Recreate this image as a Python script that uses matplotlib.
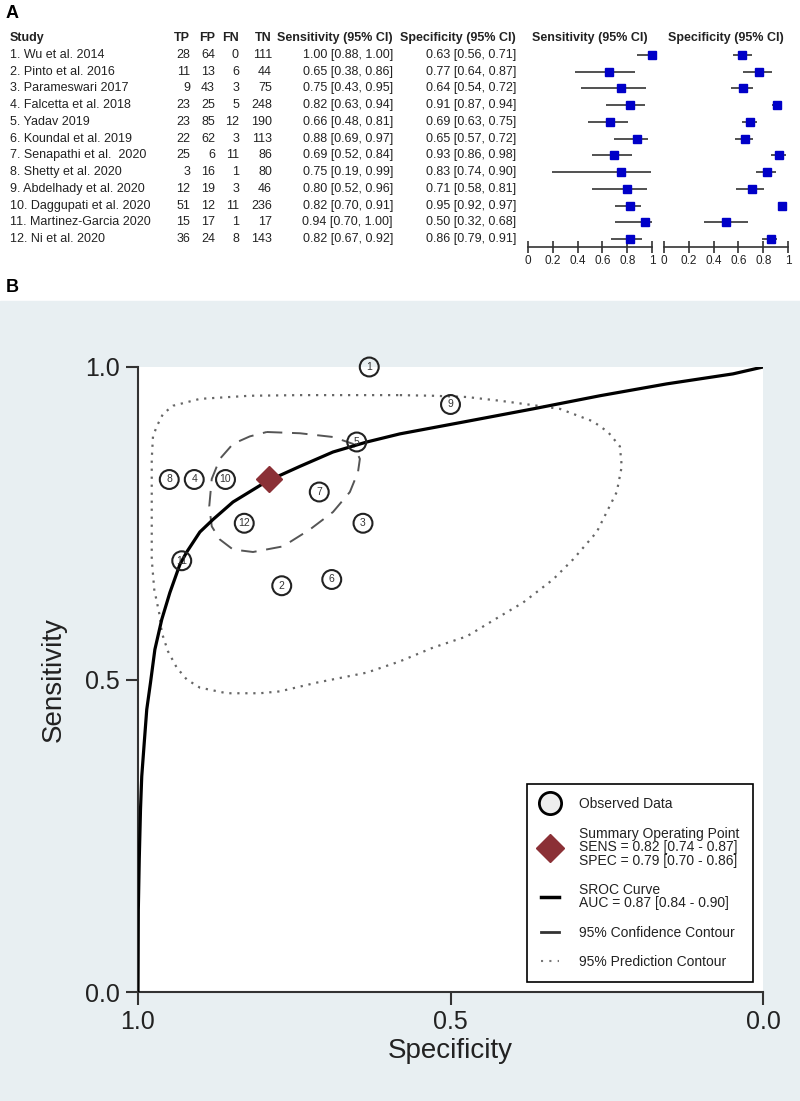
import numpy as np
import matplotlib
matplotlib.use("Agg")
import matplotlib.pyplot as plt
from matplotlib.lines import Line2D
from matplotlib.patches import Rectangle

plt.rcParams["font.family"] = ["Liberation Sans", "DejaVu Sans"]

# ---- panel A: study table ----
STUDIES = ["1. Wu et al. 2014", "2. Pinto et al. 2016", "3. Parameswari 2017",
           "4. Falcetta et al. 2018", "5. Yadav 2019", "6. Koundal et al. 2019",
           "7. Senapathi et al.  2020", "8. Shetty et al. 2020",
           "9. Abdelhady et al. 2020", "10. Daggupati et al. 2020",
           "11. Martinez-Garcia 2020", "12. Ni et al. 2020"]
TP = [28, 11, 9, 23, 23, 22, 25, 3, 12, 51, 15, 36]
FP = [64, 13, 43, 25, 85, 62, 6, 16, 19, 12, 17, 24]
FN = [0, 6, 3, 5, 12, 3, 11, 1, 3, 11, 1, 8]
TN = [111, 44, 75, 248, 190, 113, 86, 80, 46, 236, 17, 143]
SENS = [1.00, 0.65, 0.75, 0.82, 0.66, 0.88, 0.69, 0.75, 0.80, 0.82, 0.94, 0.82]
SENS_LO = [0.88, 0.38, 0.43, 0.63, 0.48, 0.69, 0.52, 0.19, 0.52, 0.70, 0.70, 0.67]
SENS_HI = [1.00, 0.86, 0.95, 0.94, 0.81, 0.97, 0.84, 0.99, 0.96, 0.91, 1.00, 0.92]
SPEC = [0.63, 0.77, 0.64, 0.91, 0.69, 0.65, 0.93, 0.83, 0.71, 0.95, 0.50, 0.86]
SPEC_LO = [0.56, 0.64, 0.54, 0.87, 0.63, 0.57, 0.86, 0.74, 0.58, 0.92, 0.32, 0.79]
SPEC_HI = [0.71, 0.87, 0.72, 0.94, 0.75, 0.72, 0.98, 0.90, 0.81, 0.97, 0.68, 0.91]
FOREST_TICKS = [0, 0.2, 0.4, 0.6, 0.8, 1]
FOREST_TICKLABELS = ["0", "0.2", "0.4", "0.6", "0.8", "1"]

# ---- panel B: SROC ----
# number drawn in each circle (same order as the studies above)
POINT_LABELS = [1, 2, 3, 4, 6, 5, 11, 12, 7, 8, 9, 10]
SUMMARY_SPEC, SUMMARY_SENS = 0.79, 0.82
SROC_SPEC = [1.0, 0.9995, 0.998, 0.996, 0.994, 0.990, 0.986, 0.980, 0.973, 0.962,
             0.949, 0.933, 0.922, 0.901, 0.880, 0.848, 0.794, 0.741, 0.688, 0.634,
             0.581, 0.474, 0.368, 0.261, 0.154, 0.048, 0.0]
SROC_SENS = [0.0, 0.131, 0.212, 0.292, 0.345, 0.399, 0.452, 0.495, 0.548, 0.596,
             0.639, 0.684, 0.704, 0.736, 0.756, 0.784, 0.817, 0.841, 0.864, 0.880,
             0.893, 0.913, 0.933, 0.954, 0.973, 0.989, 1.0]
CONF_SPEC = [0.794, 0.741, 0.688, 0.656, 0.645, 0.648, 0.661, 0.688, 0.725, 0.768,
             0.816, 0.848, 0.869, 0.882, 0.886, 0.882, 0.869, 0.848, 0.821]
CONF_SENS = [0.896, 0.894, 0.888, 0.877, 0.853, 0.832, 0.800, 0.768, 0.740, 0.713,
             0.704, 0.708, 0.724, 0.745, 0.777, 0.821, 0.853, 0.877, 0.889]
PRED_SPEC = [0.581, 0.528, 0.474, 0.421, 0.368, 0.325, 0.272, 0.248, 0.229, 0.226,
             0.234, 0.250, 0.266, 0.304, 0.336, 0.384, 0.421, 0.474, 0.528, 0.581,
             0.634, 0.714, 0.773, 0.805, 0.858, 0.901, 0.922, 0.938, 0.952, 0.962,
             0.965, 0.974, 0.978, 0.978, 0.978, 0.976, 0.970, 0.960, 0.944, 0.901,
             0.821, 0.741, 0.661]
PRED_SENS = [0.955, 0.954, 0.952, 0.946, 0.939, 0.933, 0.913, 0.896, 0.873, 0.841,
             0.800, 0.768, 0.736, 0.692, 0.660, 0.623, 0.601, 0.569, 0.551, 0.529,
             0.511, 0.495, 0.481, 0.478, 0.478, 0.487, 0.500, 0.519, 0.545, 0.575,
             0.601, 0.644, 0.692, 0.788, 0.853, 0.889, 0.905, 0.925, 0.938, 0.949,
             0.954, 0.955, 0.955]

W, H = 800, 1101
fig = plt.figure(figsize=(W / 100, H / 100), dpi=100)


def fx(px):
    return px / W


def fy(py):
    return 1 - py / H


TXT = "#222222"
ROW0, ROWSTEP = 55, 16.73

fig.text(fx(6), fy(13), "A", fontsize=13, fontweight="bold", va="center")
fig.text(fx(6), fy(288), "B", fontsize=13, fontweight="bold", va="center")

# table headers
hy = fy(38)
fig.text(fx(10), hy, "Study", fontsize=9, fontweight="bold", color=TXT, va="center")
for lab, xr in [("TP", 190), ("FP", 215), ("FN", 239), ("TN", 272),
                ("Sensitivity (95% CI)", 393), ("Specificity (95% CI)", 516)]:
    fig.text(fx(xr), hy, lab, fontsize=9, fontweight="bold", color=TXT,
             ha="right", va="center")
fig.text(fx(590), hy, "Sensitivity (95% CI)", fontsize=9, fontweight="bold",
         color=TXT, ha="center", va="center")
fig.text(fx(726), hy, "Specificity (95% CI)", fontsize=9, fontweight="bold",
         color=TXT, ha="center", va="center")

for i, name in enumerate(STUDIES):
    y = fy(ROW0 + ROWSTEP * i)
    fig.text(fx(10), y, name, fontsize=9, color=TXT, va="center")
    for vals, xr in [(TP, 190), (FP, 215), (FN, 239), (TN, 272)]:
        fig.text(fx(xr), y, str(vals[i]), fontsize=9, color=TXT, ha="right", va="center")
    fig.text(fx(393), y, f"{SENS[i]:.2f} [{SENS_LO[i]:.2f}, {SENS_HI[i]:.2f}]",
             fontsize=9, color=TXT, ha="right", va="center")
    fig.text(fx(516), y, f"{SPEC[i]:.2f} [{SPEC_LO[i]:.2f}, {SPEC_HI[i]:.2f}]",
             fontsize=9, color=TXT, ha="right", va="center")

# forest plots
rows = np.arange(len(STUDIES))
for left, est, lo, hi in [(528, SENS, SENS_LO, SENS_HI), (664, SPEC, SPEC_LO, SPEC_HI)]:
    ax = fig.add_axes([fx(left), fy(247), 124 / W, 200 / H])
    ax.hlines(rows, lo, hi, color="#333333", lw=1.2)
    ax.plot(est, rows, "s", color="#0000c8", ms=6.2, ls="none", clip_on=False)
    ax.set_xlim(0, 1)
    ax.set_ylim(11.48, -0.48)
    for s in ["top", "right", "left"]:
        ax.spines[s].set_visible(False)
    ax.spines["bottom"].set_color("#333333")
    ax.spines["bottom"].set_linewidth(1.2)
    ax.set_yticks([])
    ax.set_xticks(FOREST_TICKS)
    ax.set_xticklabels(FOREST_TICKLABELS)
    ax.tick_params(axis="x", direction="inout", length=9, width=1.2, color="#333333",
                   labelsize=8.5, labelcolor=TXT, pad=1)
    ax.patch.set_alpha(0)

# panel B background
fig.patches.append(Rectangle((0, 0), 1, fy(301), transform=fig.transFigure,
                             color="#e8eff2", zorder=-5))

axb = fig.add_axes([fx(138), fy(992), 625 / W, 625 / H])
axb.set_facecolor("white")
axb.plot(SROC_SPEC, SROC_SENS, color="black", lw=2.3, zorder=3)
axb.plot(CONF_SPEC + CONF_SPEC[:1], CONF_SENS + CONF_SENS[:1], color="#555555",
         lw=1.4, dashes=(8, 5), zorder=2)
axb.plot(PRED_SPEC + PRED_SPEC[:1], PRED_SENS + PRED_SENS[:1], color="#666666",
         lw=1.6, dashes=(1, 2.6), zorder=2)
axb.scatter(SPEC, SENS, s=185, facecolors="none", edgecolors="#222222",
            linewidths=1.5, zorder=4, clip_on=False)
for sp, se, lab in zip(SPEC, SENS, POINT_LABELS):
    axb.text(sp, se, str(lab), fontsize=7.5, color="#333333", ha="center",
             va="center", zorder=5, clip_on=False)
axb.plot([SUMMARY_SPEC], [SUMMARY_SENS], "D", color="#8b3036", ms=13, zorder=5)

axb.set_xlim(1, 0)
axb.set_ylim(0, 1)
axb.set_xticks([1.0, 0.5, 0.0])
axb.set_yticks([0.0, 0.5, 1.0])
axb.xaxis.set_major_formatter(plt.FormatStrFormatter("%.1f"))
axb.yaxis.set_major_formatter(plt.FormatStrFormatter("%.1f"))
for s in ["top", "right"]:
    axb.spines[s].set_visible(False)
for s in ["left", "bottom"]:
    axb.spines[s].set_color("#333333")
    axb.spines[s].set_linewidth(1.5)
axb.tick_params(length=9, width=1.5, color="#333333", labelsize=18,
                labelcolor=TXT, pad=4)
axb.set_xlabel("Specificity", fontsize=20, color=TXT, labelpad=3)
axb.set_ylabel("Sensitivity", fontsize=20, color=TXT, labelpad=13)

handles = [
    Line2D([], [], marker="o", ls="none", ms=16, mfc="#eeeeee", mec="black", mew=2),
    Line2D([], [], marker="D", ls="none", ms=14, color="#8b3036"),
    Line2D([], [], color="black", lw=2.5),
    Line2D([], [], color="#333333", lw=2),
    Line2D([], [], color="#777777", lw=1.5, dashes=(1, 3)),
]
labels = ["Observed Data",
          "Summary Operating Point\nSENS = 0.82 [0.74 - 0.87]\nSPEC = 0.79 [0.70 - 0.86]",
          "SROC Curve\nAUC = 0.87 [0.84 - 0.90]",
          "95% Confidence Contour",
          "95% Prediction Contour"]
leg = axb.legend(handles, labels, loc="lower right", bbox_to_anchor=(0.984, 0.016),
                 borderaxespad=0, fontsize=10, frameon=True, fancybox=False,
                 edgecolor="black", handlelength=1.3, handletextpad=1.5,
                 borderpad=0.95, labelspacing=1.1, framealpha=1)
leg.get_frame().set_linewidth(1.2)
for t in leg.get_texts():
    t.set_color(TXT)
    t.set_linespacing(0.95)

fig.savefig("out.png", dpi=100)
